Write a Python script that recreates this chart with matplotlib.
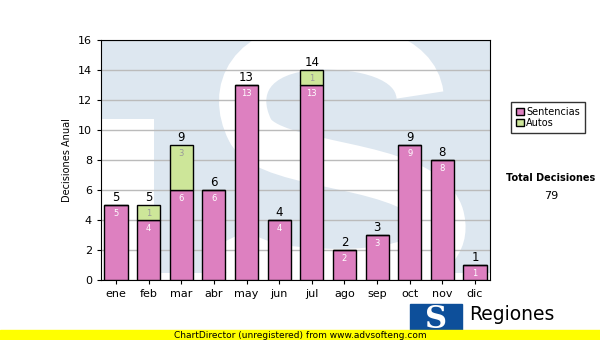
import numpy as np
import matplotlib
matplotlib.use("Agg")
import matplotlib.pyplot as plt
from matplotlib.patches import Rectangle, PathPatch
from matplotlib.path import Path

# ─── Data ─────────────────────────────────────────────────────────────────────
months     = ["ene", "feb", "mar", "abr", "may", "jun",
              "jul", "ago", "sep", "oct", "nov", "dic"]
sentencias = [5, 4, 6, 6, 13, 4, 13, 2, 3, 9, 8, 1]
autos      = [0, 1, 3, 0, 0, 0, 1, 0, 0, 0, 0, 0]
total      = int(np.sum(sentencias) + np.sum(autos))

PINK  = "#dd80c0"
GREEN = "#cde699"
W, H = 600, 340

fig = plt.figure(figsize=(6, 3.4), dpi=100)
fig.patch.set_facecolor("white")

# plot area in pixel coords -> figure fraction
L, R, T, B = 101, 490, 40, 280
ax = fig.add_axes([L / W, 1 - B / H, (R - L) / W, (B - T) / H])


def px(xp, yp):
    # pixel position of the picture -> axes fraction
    return ((xp - L) / (R - L), (B - yp) / (B - T))


# ─── watermark background (the "S" logo) ──────────────────────────────────────
wm = "#dde7f0"
ax.add_patch(Rectangle((0.0, 0.03), 1.0, 0.97, transform=ax.transAxes,
                       color=wm, zorder=0, lw=0))
ax.add_patch(Rectangle((0.0, 0.03), 0.137, 0.64, transform=ax.transAxes,
                       color="white", zorder=0, lw=0))
s_pts = [(420, 95), (415, 55), (360, 45), (320, 46),
         (250, 48), (230, 90), (250, 130),
         (270, 170), (420, 160), (440, 215),
         (455, 265), (380, 275), (320, 272),
         (260, 270), (235, 255), (228, 240)]
codes = [Path.MOVETO] + [Path.CURVE4] * 15
s_path = Path([px(*p) for p in s_pts], codes)
ax.add_patch(PathPatch(s_path, transform=ax.transAxes, facecolor="none",
                       edgecolor="white", linewidth=34, capstyle="butt",
                       zorder=0.5))

# ─── bars ─────────────────────────────────────────────────────────────────────
x = np.arange(len(months))
bw = 0.71
ax.bar(x, sentencias, bw, color=PINK, edgecolor="black", linewidth=1,
       label="Sentencias", zorder=3)
ax.bar(x, autos, bw, bottom=sentencias, color=GREEN, edgecolor="black",
       linewidth=1, label="Autos", zorder=3)

for i in range(len(months)):
    s, a = sentencias[i], autos[i]
    ax.text(x[i], s - 0.25, str(s), ha="center", va="top", fontsize=6,
            color="white", zorder=4)
    if a:
        ax.text(x[i], s + a - 0.25, str(a), ha="center", va="top",
                fontsize=6, color="#999999", zorder=4)
    ax.text(x[i], s + a + 0.05, str(s + a), ha="center", va="bottom",
            fontsize=8.5, color="black", zorder=4)

ax.set_xlim(-0.46, 11.46)
ax.set_ylim(0, 16)
ax.set_yticks(range(0, 17, 2))
ax.set_xticks(x)
ax.set_xticklabels(months)
ax.tick_params(labelsize=8, length=3, color="black")
ax.yaxis.grid(True, color="#bbbbbb", linewidth=1, zorder=1)
ax.set_axisbelow(True)
for sp in ax.spines.values():
    sp.set_color("black")
ax.set_ylabel("Decisiones Anual", fontsize=7)

# ─── legend and total ─────────────────────────────────────────────────────────
leg = fig.legend(loc="upper left", bbox_to_anchor=(506 / W, 1 - 97 / H),
                 fontsize=7, frameon=True, fancybox=False, edgecolor="black",
                 handlelength=0.8, handleheight=0.8, handletextpad=0.3,
                 borderpad=0.5, labelspacing=0.1)
leg.get_frame().set_linewidth(1)
fig.text(551 / W, 1 - 178 / H, "Total Decisiones", ha="center", va="center",
         fontsize=7, fontweight="bold")
fig.text(551 / W, 1 - 196 / H, str(total), ha="center", va="center",
         fontsize=8)

# ─── footer ───────────────────────────────────────────────────────────────────
fig.patches.append(Rectangle((0, 0), 1, 10 / H, transform=fig.transFigure,
                             color="#ffff00", zorder=5))
fig.text(300 / W, 5 / H, "ChartDirector (unregistered) from www.advsofteng.com",
         ha="center", va="center", fontsize=6.5, zorder=6)
fig.patches.append(Rectangle((410 / W, 0), 52 / W, 36 / H,
                             transform=fig.transFigure, color="#0d4f9a",
                             zorder=4))
fig.text(436 / W, 20 / H, "S", ha="center", va="center", fontsize=22,
         fontweight="bold", color="white", family="DejaVu Serif", zorder=6)
fig.text(469 / W, 25 / H, "Regiones", ha="left", va="center", fontsize=13.5,
         zorder=6)

fig.savefig("out.png", dpi=100)
